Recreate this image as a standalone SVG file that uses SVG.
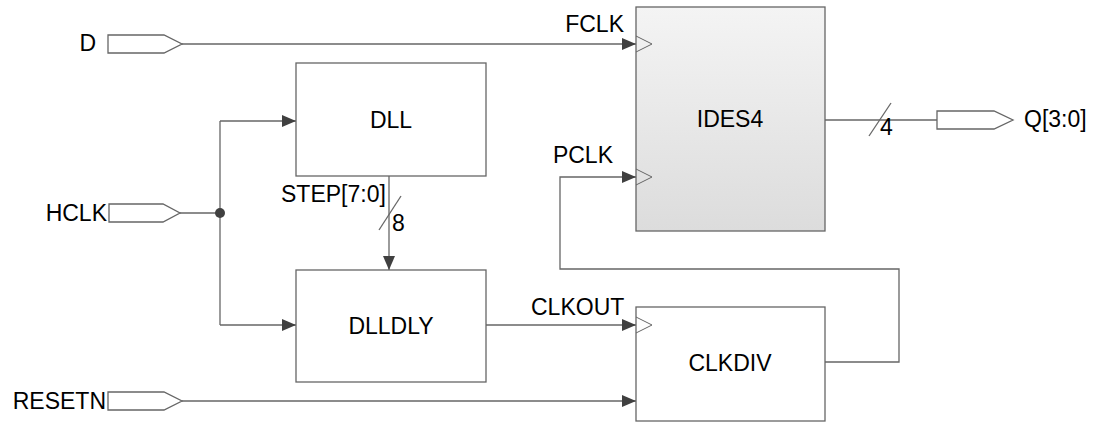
<svg xmlns="http://www.w3.org/2000/svg" width="1109" height="424" viewBox="0 0 1109 424">
<defs>
<linearGradient id="g" x1="0" y1="0" x2="0" y2="1">
<stop offset="0" stop-color="#f4f4f4"/>
<stop offset="1" stop-color="#dcdcdc"/>
</linearGradient>
<marker id="arr" markerUnits="userSpaceOnUse" markerWidth="14" markerHeight="12" refX="14" refY="6" orient="auto">
<path d="M0,0 L14,6 L0,12 z" fill="#404040"/>
</marker>
<style>
.box{fill:#fff;stroke:#666;stroke-width:1.3}
.wire{fill:none;stroke:#666;stroke-width:1.3}
.port{fill:#fff;stroke:#666;stroke-width:1.3}
.clk{fill:none;stroke:#666;stroke-width:1}
text{font-family:"Liberation Sans",Arial,sans-serif;font-size:23px;fill:#000}
.c{text-anchor:middle}
.e{text-anchor:end}
</style>
</defs>
<rect width="1109" height="424" fill="#fff"/>

<g id="connectors">
<path class="wire" d="M182,44 H636" marker-end="url(#arr)"/>
<path class="wire" d="M180,213 H220"/>
<path class="wire" d="M220,121 V325"/>
<path class="wire" d="M220,121 H296" marker-end="url(#arr)"/>
<path class="wire" d="M220,325 H296" marker-end="url(#arr)"/>
<circle cx="220" cy="213" r="5" fill="#404040"/>
<path class="wire" d="M389,176 V270" marker-end="url(#arr)"/>
<path class="wire" d="M379,230 L401,196"/>
<text x="392" y="231">8</text>
<text x="281" y="202">STEP[7:0]</text>
<path class="wire" d="M486,325 H636" marker-end="url(#arr)"/>
<text x="531" y="315">CLKOUT</text>
<path class="wire" d="M182,401 H636" marker-end="url(#arr)"/>
<path class="wire" d="M825,362 H899 V269 H560 V177 H636" marker-end="url(#arr)"/>
<path class="wire" d="M825,120 H937"/>
<path class="wire" d="M869,136 L891,103"/>
<text x="880" y="135">4</text>
</g>

<g id="port-D">
<path class="port" d="M108,35 H164 L182,44 L164,53 H108 Z"/>
<text x="96" y="51" class="e">D</text>
</g>
<g id="port-HCLK">
<path class="port" d="M109,204 H163 L180,213 L163,222 H109 Z"/>
<text x="107" y="221" class="e">HCLK</text>
</g>
<g id="port-RESETN">
<path class="port" d="M108,392 H164 L182,401 L164,410 H108 Z"/>
<text x="106" y="409" class="e">RESETN</text>
</g>
<g id="port-Q">
<path class="port" d="M937,111 H994 L1013,120 L994,129 H937 Z"/>
<text x="1024" y="127">Q[3:0]</text>
</g>

<g id="DLL">
<rect class="box" x="296" y="63" width="190" height="113"/>
<text x="391" y="128" class="c">DLL</text>
</g>
<g id="DLLDLY">
<rect class="box" x="296" y="270" width="190" height="112"/>
<text x="391" y="334" class="c">DLLDLY</text>
</g>
<g id="IDES4">
<rect x="636" y="7" width="189" height="224" fill="url(#g)" stroke="#666" stroke-width="1.3"/>
<path class="clk" d="M636,36 L652,44 L636,52"/>
<path class="clk" d="M636,169 L652,177 L636,185"/>
<text x="730" y="127" class="c">IDES4</text>
<text x="624" y="32" class="e">FCLK</text>
<text x="613" y="163" class="e">PCLK</text>
</g>
<g id="CLKDIV">
<rect class="box" x="636" y="307" width="189" height="114"/>
<path class="clk" d="M636,317 L652,325 L636,333"/>
<text x="730" y="371" class="c">CLKDIV</text>
</g>
</svg>
